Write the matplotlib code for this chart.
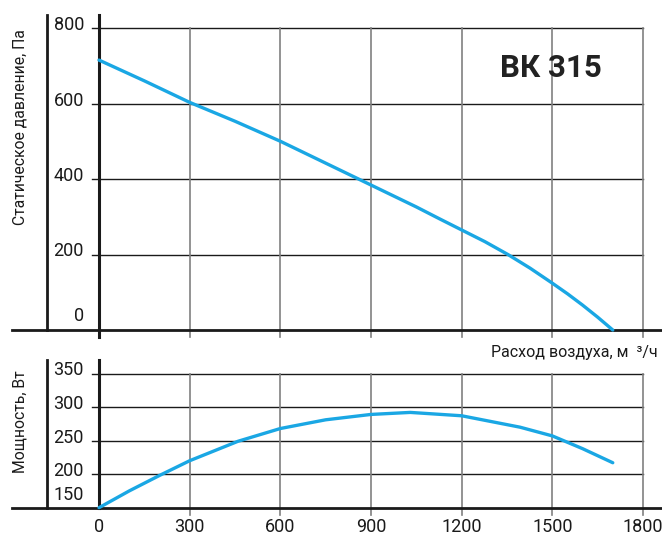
import matplotlib
matplotlib.use("Agg")
import matplotlib.pyplot as plt
from matplotlib import font_manager

plt.rcParams['font.family'] = ['Roboto', 'DejaVu Sans']
names = {f.name for f in font_manager.fontManager.ttflist}
narrow = 'Liberation Sans Narrow' if 'Liberation Sans Narrow' in names else 'Roboto'

# Data
flow_p = [0, 150, 300, 450, 600, 750, 900, 1050, 1128, 1200, 1277, 1353, 1426, 1500, 1550, 1600, 1650, 1700]
pressure = [715, 660, 603, 553, 500, 442, 384, 326, 294, 265, 234, 200, 164, 124, 96, 66, 34, 0]
flow_w = [0, 100, 200, 300, 460, 600, 750, 900, 1030, 1200, 1393, 1500, 1600, 1700]
power = [150, 175, 198, 220, 249, 268, 281, 289, 292, 287, 270, 257, 238, 217]

x_ticks = [0, 300, 600, 900, 1200, 1500, 1800]
p_ticks = [0, 200, 400, 600, 800]
w_ticks = [150, 200, 250, 300, 350]
title = "ВК 315"
xlabel = "Расход воздуха, м  ³/ч"
ylabel_top = "Статическое давление, Па"
ylabel_bot = "Мощность, Вт"

W, H = 662, 541
fig = plt.figure(figsize=(W / 100, H / 100), dpi=100)

def axes_px(x0, x1, ytop, ybot):
    return fig.add_axes([x0 / W, 1 - ybot / H, (x1 - x0) / W, (ybot - ytop) / H])

blue = '#1aa7e4'
dark = '#1a1a1a'
grey = '#808080'

X0, X1 = 99, 643
sx = 1800 / (X1 - X0)
def tx(px):
    return (px - X0) * sx

# ---------- Top panel ----------
T0, T1 = 28, 330
ax1 = axes_px(X0, X1, T0, T1)
ax1.set_xlim(0, 1800)
ax1.set_ylim(0, 800)
ax1.axis('off')
sy1 = 800 / (T1 - T0)
def ty1(py):
    return (T1 - py) * sy1

for v in p_ticks[1:]:
    ax1.plot([tx(92), 1800], [v, v], color=dark, lw=1.0, clip_on=False, zorder=1)
for v in x_ticks[1:]:
    ax1.plot([v, v], [ty1(337), 800], color=grey, lw=1.2, clip_on=False, zorder=1)
ax1.plot([tx(12), tx(662)], [0, 0], color=dark, lw=2.0, clip_on=False, zorder=2)
ax1.plot([tx(46.5), tx(46.5)], [0, ty1(15)], color=dark, lw=2.0, clip_on=False, zorder=2)
ax1.plot([0, 0], [ty1(337), ty1(15)], color=dark, lw=2.2, clip_on=False, zorder=2)
for v in p_ticks:
    ax1.text(tx(84), v + 3 * sy1 if v else ty1(325), str(v), ha='right',
             va='center' if v else 'bottom', fontsize=13, color=dark,
             family=[narrow, 'DejaVu Sans'])
ax1.plot(flow_p, pressure, color=blue, lw=2.4, zorder=3, clip_on=False,
         solid_capstyle='round')
ax1.text(tx(551), ty1(68), title, ha='center', va='center', fontsize=22.5,
         fontweight='bold', color='#222222', zorder=4)
fig.text(20 / W, 1 - 127 / H, ylabel_top, rotation=90, ha='center', va='center',
         fontsize=11.3, color=dark)
fig.text(658 / W, 1 - 353 / H, xlabel, ha='right', va='center', fontsize=11.5, color=dark)

# ---------- Bottom panel ----------
B0, B1 = 373.5, 507.7
ax2 = axes_px(X0, X1, B0, B1)
ax2.set_xlim(0, 1800)
ax2.set_ylim(150, 350)
ax2.axis('off')
sy2 = 200 / (B1 - B0)
def ty2(py):
    return 150 + (B1 - py) * sy2

for v in w_ticks[1:]:
    ax2.plot([tx(92), 1800], [v, v], color=dark, lw=1.0, clip_on=False, zorder=1)
for v in x_ticks[1:]:
    ax2.plot([v, v], [ty2(515), 350], color=grey, lw=1.2, clip_on=False, zorder=1)
ax2.plot([tx(12), tx(662)], [150, 150], color=dark, lw=2.0, clip_on=False, zorder=2)
ax2.plot([tx(46.5), tx(46.5)], [150, ty2(360)], color=dark, lw=2.0, clip_on=False, zorder=2)
ax2.plot([0, 0], [150, ty2(360)], color=dark, lw=2.2, clip_on=False, zorder=2)
for v in w_ticks:
    ax2.text(tx(84), v + 3 * sy2 if v != 150 else ty2(504), str(v), ha='right',
             va='center' if v != 150 else 'bottom', fontsize=13, color=dark,
             family=[narrow, 'DejaVu Sans'])
for v in x_ticks:
    ax2.text(v, ty2(527), str(v), ha='center', va='center', fontsize=13, color=dark,
             family=[narrow, 'DejaVu Sans'])
ax2.plot(flow_w, power, color=blue, lw=2.4, zorder=3, clip_on=False,
         solid_capstyle='round')
fig.text(20 / W, 1 - 422 / H, ylabel_bot, rotation=90, ha='center', va='center',
         fontsize=11.3, color=dark)

fig.savefig('out.png', dpi=100)
